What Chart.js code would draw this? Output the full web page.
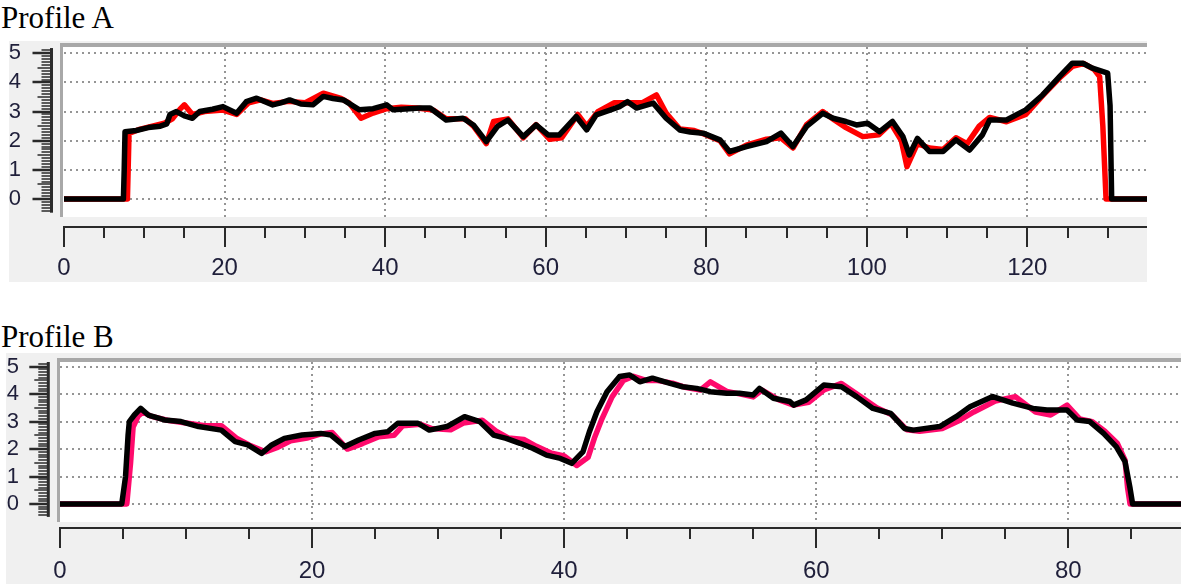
<!DOCTYPE html>
<html><head><meta charset="utf-8">
<script src="https://cdn.jsdelivr.net/npm/chart.js@4.4.0/dist/chart.umd.min.js"></script>
<style>
html,body{margin:0;padding:0;background:#fff;width:1181px;height:584px;overflow:hidden;position:relative}
.title{position:absolute;left:1px;font-family:'Liberation Serif','Times New Roman',serif;font-size:31px;line-height:31px;color:#000;white-space:nowrap}
canvas{position:absolute}
</style></head><body>
<div class="title" id="tA" style="top:2px"></div>
<canvas id="cA" width="1138" height="241" style="left:9px;top:41px"></canvas>
<div class="title" id="tB" style="top:321px"></div>
<canvas id="cB" width="1175" height="231" style="left:6px;top:353px"></canvas>
<script>
const titleA = 'Profile A';
const titleB = 'Profile B';
const yTickLabels = [0, 1, 2, 3, 4, 5];
const xTickLabelsA = [0, 20, 40, 60, 80, 100, 120];
const xTickLabelsB = [0, 20, 40, 60, 80];

const aBlackX = [0,7.4,7.5,7.6,9,10.5,12,12.8,13.2,14,15,16,16.9,18.5,19.8,21.5,22.7,24,26,27,28.1,29.5,31,32.3,33.5,34.8,36.8,38.5,40.2,41,43,44.3,45.6,47.6,49.7,51,52.6,54,55.3,57.2,58.8,60.3,61.7,63.8,65.1,66.3,68,69.2,70.2,71.3,73.4,75,76.7,78,79.6,81.7,82.9,85,87.5,89.3,90.8,92.5,94.5,95.8,97.4,98.7,100.1,101.6,103.2,104.5,105.3,106.3,107.8,109.5,111.1,112.8,114.4,115.3,117.4,119.8,121.9,124,125.6,126.9,128.1,130,130.3,130.5,134.9];
const aBlackY = [0,0,1.0,2.31,2.35,2.45,2.5,2.58,2.9,3.0,2.85,2.77,3.0,3.08,3.17,2.94,3.34,3.46,3.23,3.3,3.4,3.26,3.23,3.52,3.45,3.4,3.06,3.1,3.23,3.06,3.1,3.12,3.12,2.71,2.77,2.54,1.97,2.49,2.71,2.14,2.54,2.2,2.2,2.83,2.37,2.89,3.05,3.17,3.34,3.12,3.29,2.77,2.37,2.3,2.26,2.03,1.63,1.8,1.97,2.26,1.8,2.49,2.94,2.77,2.66,2.54,2.6,2.31,2.66,2.14,1.51,2.08,1.63,1.63,2.03,1.68,2.2,2.71,2.71,3.06,3.57,4.2,4.66,4.66,4.49,4.32,3.2,0,0];
const aRedX = [0,7.9,8.1,9.5,11,12.5,13.5,14.5,15,16,17.5,19.8,21.5,23,24.5,26,28,30,32.3,34.5,35.5,37,38.5,40.2,42,44,46,47.6,50,51,52.6,53.5,55.3,57.2,58.8,60.5,62,64,65.1,66.5,68.5,70.2,72,73.8,75,76.7,78.5,80,81.7,82.9,85,87.5,89.3,90.8,92.5,94.5,96,97.4,99.5,101.5,103,104.3,105,106.3,107.8,109.5,111.1,112.5,114,115.3,117.4,119.8,121.9,124,125.6,127,128.3,129,129.4,129.8,134.9];
const aRedY = [0,0,2.25,2.4,2.5,2.6,2.75,3.1,3.23,2.9,3.0,3.05,2.9,3.3,3.4,3.28,3.35,3.3,3.63,3.45,3.3,2.77,2.95,3.1,3.15,3.12,3.05,2.75,2.75,2.5,1.9,2.66,2.75,2.1,2.55,2.05,2.1,2.9,2.5,3.0,3.3,3.3,3.3,3.57,2.95,2.4,2.35,2.2,2.0,1.55,1.85,2.05,2.1,1.75,2.55,3.0,2.7,2.45,2.14,2.2,2.6,2.0,1.11,1.9,1.75,1.7,2.1,1.9,2.5,2.8,2.65,2.9,3.55,4.15,4.55,4.65,4.45,4.2,2.5,0,0];

const bBlackX = [0,4.9,5.2,5.4,5.5,5.9,6.4,7,8.3,9.6,11,12.8,13.9,14.9,16,16.8,17.8,19.2,20.7,21.5,22.6,23.7,25,26,26.8,28.4,29.3,30.7,32.1,33.3,34.4,35.4,36.5,37.5,38.6,39.7,40.6,41.5,42,42.6,43.4,44.4,45.2,46,47,48.4,49.4,50.5,51.6,52.9,53.9,55,55.5,56.6,57.9,58.2,59.2,60.6,62,63.2,64.5,65.9,67,67.7,69.8,71.1,72.2,74,75.6,77.2,78.3,79.9,80.7,81.7,82.8,83.8,84.5,84.9,85.1,88.94];
const bBlackY = [0,0,1.0,2.5,3.0,3.24,3.48,3.24,3.06,3.0,2.82,2.69,2.27,2.15,1.84,2.15,2.39,2.51,2.57,2.51,2.09,2.33,2.57,2.63,2.94,2.94,2.69,2.82,3.18,3.0,2.51,2.39,2.21,2.03,1.78,1.66,1.48,1.91,2.63,3.36,4.09,4.64,4.7,4.45,4.58,4.39,4.27,4.21,4.09,4.03,4.03,3.97,4.21,3.85,3.73,3.6,3.79,4.33,4.27,3.91,3.48,3.3,2.75,2.69,2.82,3.18,3.54,3.91,3.67,3.48,3.42,3.42,3.06,3.0,2.57,2.09,1.54,0.57,0,0];
const bPinkX = [0,5.3,5.6,5.8,6.2,6.6,7.2,8.5,10,11.5,12.8,14,15,16.3,17.2,18.3,19.6,20.7,21.6,22.8,24,25.3,26.5,27.2,28.6,29.5,31,32,33.5,34.6,35.6,36.8,37.8,39,40,41,41.9,42.4,43,43.8,44.7,45.5,46.5,47.3,48.6,49.6,50.8,51.6,52.9,54,55,55.7,57,58.2,59.4,60.6,62,63.4,64.8,66,67.2,68.2,70,71.4,72.5,74.2,75.8,77.4,78.6,79.9,80.9,81.9,82.9,83.9,84.5,84.7,84.9,88.94];
const bPinkY = [0,0,1.5,2.8,3.2,3.35,3.2,3.05,2.95,2.85,2.85,2.4,2.15,1.9,2.05,2.3,2.4,2.55,2.6,2.0,2.2,2.45,2.5,2.85,2.9,2.75,2.7,2.95,3.05,2.65,2.4,2.35,2.1,1.85,1.75,1.4,1.7,2.4,3.1,3.9,4.5,4.65,4.5,4.5,4.4,4.25,4.15,4.45,4.1,4.0,3.9,4.15,3.8,3.6,3.7,4.15,4.39,3.95,3.5,3.25,2.7,2.65,2.75,3.05,3.35,3.75,3.91,3.35,3.24,3.6,3.1,3.0,2.65,2.2,1.6,0.6,0,0];

document.getElementById('tA').textContent = titleA;
document.getElementById('tB').textContent = titleB;

function pts(xs, ys) { return xs.map((x, i) => ({x: x, y: ys[i]})); }
function isOn(v, list) { return list.some(l => Math.abs(l - v) < 1e-6); }
function isInt(v) { return Math.abs(v - Math.round(v)) < 1e-6; }
function isHalf(v) { return Math.abs(v * 2 - Math.round(v * 2)) < 1e-6; }
const CLEAR = 'rgba(0,0,0,0)';
const LABEL_COLOR = '#1f1f3a';
const GRID_COLOR = '#959595';

function makeChart(id, o) {
  const canvas = document.getElementById(id);
  const H = canvas.height;
  const TL = 34;
  const panel = {
    id: 'panel',
    beforeDraw(chart) {
      const ctx = chart.ctx, ca = chart.chartArea;
      ctx.save();
      ctx.fillStyle = '#f0f0f0';
      ctx.fillRect(0, 0, chart.width, H);
      ctx.fillStyle = '#ffffff';
      ctx.fillRect(o.whiteLeft, ca.top, ca.right - o.whiteLeft, o.whiteBottom - ca.top);
      ctx.fillStyle = '#a8a8a8';
      ctx.fillRect(o.whiteLeft - 3, ca.top - 4, ca.right - o.whiteLeft + 3, 4);
      ctx.fillRect(o.whiteLeft - 3, ca.top - 4, 3, o.whiteBottom - ca.top + 4);
      ctx.restore();
    },
    beforeDatasetsDraw(chart) {
      const ctx = chart.ctx, ca = chart.chartArea, ys = chart.scales.y;
      ctx.save();
      ctx.fillStyle = '#f0f0f0';
      ctx.fillRect(o.whiteLeft, o.whiteBottom, ca.right - o.whiteLeft + 2, ca.bottom - 1 - o.whiteBottom);
      ctx.strokeStyle = '#2a2a2a';
      ctx.lineWidth = 3;
      ctx.beginPath();
      ctx.moveTo(o.rulerX, ys.getPixelForValue(o.rulerTop));
      ctx.lineTo(o.rulerX, ys.getPixelForValue(o.rulerBottom));
      ctx.stroke();
      ctx.restore();
    }
  };
  return new Chart(canvas, {
    type: 'line',
    data: {datasets: o.datasets},
    options: {
      responsive: false, animation: false, devicePixelRatio: 1,
      layout: {padding: {top: o.top, left: 0, right: 0, bottom: 0}},
      plugins: {legend: {display: false}, tooltip: {enabled: false}, title: {display: false}},
      elements: {point: {radius: 0}, line: {tension: 0}},
      scales: {
        x: {
          type: 'linear', min: 0, max: o.xMax,
          afterFit(s) { s.height = H - o.bottom; s.paddingLeft = 0; s.paddingRight = 0; },
          border: {display: true, color: '#2a2a2a', width: 2, dash: [2, 4]},
          grid: {
            color: c => (c.tick.value > 0 && isOn(c.tick.value, o.xLabels)) ? GRID_COLOR : CLEAR,
            lineWidth: 2,
            tickLength: 20, tickColor: '#2a2a2a', tickWidth: 2,
            tickBorderDash: c => isOn(c.tick.value, o.xLabels) ? [] : [10, 1000]
          },
          ticks: {
            stepSize: 5, autoSkip: false, maxRotation: 0, minRotation: 0, includeBounds: false,
            padding: o.xPad, color: LABEL_COLOR,
            font: {family: "'Liberation Sans', Arial, sans-serif", size: 24},
            callback: v => isOn(v, o.xLabels) ? String(Math.round(v)) : ''
          }
        },
        y: {
          type: 'linear', min: o.yMin, max: o.yMax,
          afterFit(s) { s.width = o.left; s.paddingTop = 0; s.paddingBottom = 0; },
          border: {display: false, dash: [2, 4]},
          grid: {
            color: c => isOn(c.tick.value, yTickLabels) ? GRID_COLOR : CLEAR,
            lineWidth: 2,
            tickLength: TL,
            tickColor: c => (c.tick.value >= o.rulerBottom + 0.04 && c.tick.value <= o.rulerTop - 0.04) ? '#2a2a2a' : CLEAR,
            tickWidth: c => isInt(c.tick.value) ? 2.5 : 1.5,
            tickBorderDash: c => {
              const v = c.tick.value;
              const L = isInt(v) ? 19 : (isHalf(v) ? 14 : 10);
              const start = c.scale.right - TL;
              return [0, Math.max(0, o.rulerX - L - start), L, 1000];
            }
          },
          ticks: {
            stepSize: 0.1, autoSkip: false, includeBounds: false, padding: o.yPad, color: LABEL_COLOR,
            font: {family: "'Liberation Sans', Arial, sans-serif", size: 22},
            callback: v => isOn(v, yTickLabels) ? String(Math.round(v)) : ''
          }
        }
      }
    },
    plugins: [panel]
  });
}

function line(xs, ys, color) {
  return {data: pts(xs, ys), borderColor: color, borderWidth: 5.5, borderJoinStyle: 'round', borderCapStyle: 'round', pointRadius: 0, fill: false};
}

makeChart('cA', {
  xMax: 134.9, yMin: -0.961, yMax: 5.216,
  top: 6, left: 55, bottom: 186, whiteLeft: 54, whiteBottom: 176,
  rulerX: 42.5, rulerTop: 5.18, rulerBottom: -0.47, xLabels: xTickLabelsA, xPad: 7, yPad: 9,
  datasets: [line(aBlackX, aBlackY, '#000000'), line(aRedX, aRedY, '#ff0000')]
});
makeChart('cB', {
  xMax: 88.94, yMin: -0.874, yMax: 5.17,
  top: 9, left: 54, bottom: 175, whiteLeft: 54, whiteBottom: 169,
  rulerX: 42.3, rulerTop: 5.17, rulerBottom: -0.47, xLabels: xTickLabelsB, xPad: 9, yPad: 7,
  datasets: [line(bBlackX, bBlackY, '#000000'), line(bPinkX, bPinkY, '#ff0a6c')]
});
</script>
</body></html>
